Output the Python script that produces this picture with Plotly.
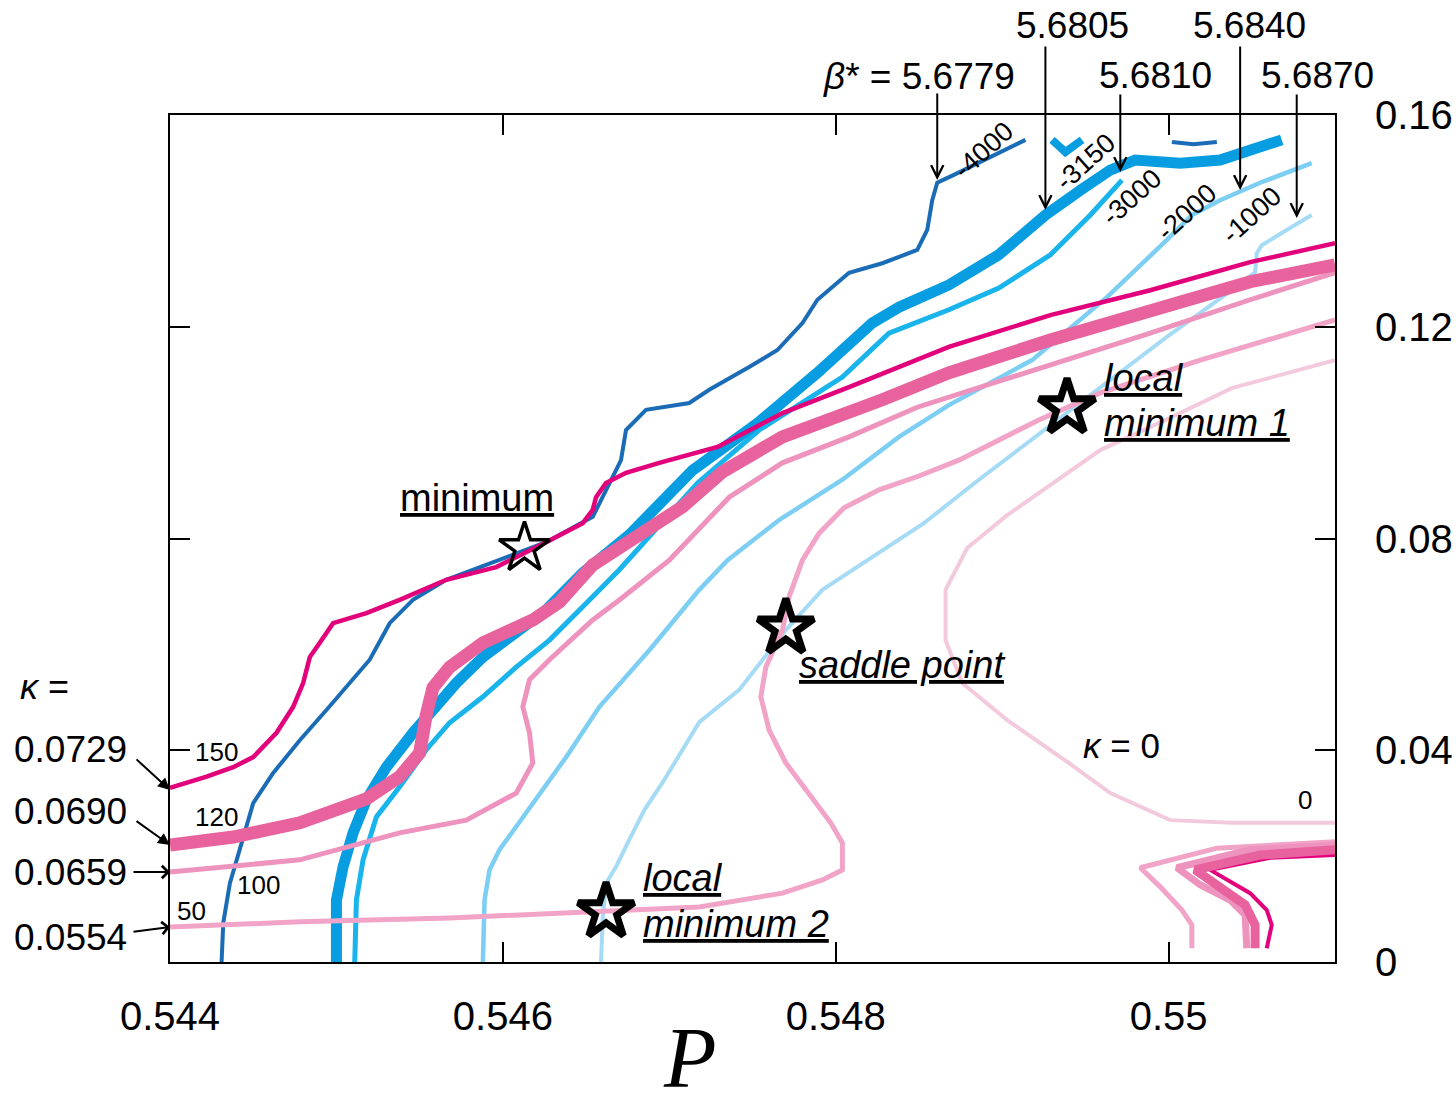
import plotly.graph_objects as go

# ---- beta* contours (P, kappa) ----
b5779_P = [0.54431, 0.54432, 0.54436, 0.54442, 0.54450, 0.54462, 0.54478, 0.54494, 0.54508, 0.54520,
           0.54532, 0.54546, 0.54566, 0.54602, 0.54626, 0.54654, 0.54664, 0.54671, 0.54674, 0.54686,
           0.54712, 0.54724, 0.54748, 0.54765, 0.54780, 0.54789, 0.54808, 0.54828, 0.54849, 0.54855,
           0.54858, 0.54861, 0.54871, 0.54883, 0.54898, 0.54914]
b5779_K = [0.0000, 0.0074, 0.0149, 0.0212, 0.0300, 0.0357, 0.0419, 0.0476, 0.0527, 0.0571,
           0.0640, 0.0684, 0.0722, 0.0765, 0.0793, 0.0841, 0.0905, 0.0948, 0.1005, 0.1043,
           0.1056, 0.1081, 0.1124, 0.1156, 0.1207, 0.1251, 0.1302, 0.1320, 0.1345, 0.1383,
           0.1439, 0.1472, 0.1487, 0.1506, 0.1528, 0.1553]

b5805_P = [0.54500, 0.54500, 0.54504, 0.54510, 0.54518, 0.54530, 0.54546, 0.54558, 0.54572, 0.54588,
           0.54608, 0.54626, 0.54648, 0.54676, 0.54714, 0.54753, 0.54789, 0.54822, 0.54838, 0.54868,
           0.54898, 0.54926, 0.54947, 0.54965, 0.54980, 0.55007, 0.55031, 0.55055, 0.55068]
b5805_K = [0.0000, 0.0117, 0.0180, 0.0244, 0.0306, 0.0368, 0.0433, 0.0476, 0.0527, 0.0576,
           0.0622, 0.0665, 0.0735, 0.0807, 0.0929, 0.1018, 0.1113, 0.1207, 0.1237, 0.1279,
           0.1336, 0.1411, 0.1458, 0.1496, 0.1515, 0.1509, 0.1515, 0.1540, 0.1553]

b5810_P = [0.54511, 0.54512, 0.54516, 0.54524, 0.54538, 0.54554, 0.54568, 0.54588, 0.54608, 0.54628,
           0.54648, 0.54670, 0.54717, 0.54754, 0.54804, 0.54832, 0.54868, 0.54898, 0.54929, 0.54953,
           0.54972]
b5810_K = [0.0000, 0.0117, 0.0193, 0.0274, 0.0331, 0.0401, 0.0452, 0.0501, 0.0557, 0.0608,
           0.0671, 0.0741, 0.0905, 0.1005, 0.1105, 0.1188, 0.1232, 0.1273, 0.1336, 0.1411,
           0.1477]

b5840_P = [0.54588, 0.54589, 0.54592, 0.54598, 0.54614, 0.54638, 0.54658, 0.54688, 0.54718, 0.54735,
           0.54766, 0.54804, 0.54838, 0.54868, 0.54918, 0.54963, 0.54999, 0.55014, 0.55031, 0.55055,
           0.55086]
b5840_K = [0.0000, 0.0117, 0.0174, 0.0212, 0.0282, 0.0387, 0.0482, 0.0589, 0.0703, 0.0759,
           0.0835, 0.0911, 0.0992, 0.1052, 0.1137, 0.1256, 0.1364, 0.1411, 0.1439, 0.1472,
           0.1509]

b5870_P = [0.54659, 0.54660, 0.54662, 0.54668, 0.54676, 0.54685, 0.54697, 0.54718, 0.54742, 0.54770,
           0.54792, 0.54822, 0.54838, 0.54853, 0.54886, 0.54933, 0.54965, 0.54999, 0.55038, 0.55052,
           0.55053, 0.55056, 0.55068, 0.55086]
b5870_K = [0.0000, 0.0085, 0.0149, 0.0180, 0.0231, 0.0287, 0.0344, 0.0453, 0.0514, 0.0627,
           0.0703, 0.0765, 0.0797, 0.0829, 0.0911, 0.1024, 0.1099, 0.1181, 0.1269, 0.1303,
           0.1339, 0.1354, 0.1377, 0.1411]

# small isolated contour pieces near the top edge
b5805_bit_P = [0.54930, 0.54938, 0.54948]
b5805_bit_K = [0.1553, 0.1530, 0.1553]
b5779_bit_P = [0.55002, 0.55015, 0.55029]
b5779_bit_K = [0.1549, 0.1545, 0.1549]

# ---- kappa contours (P, kappa) ----
k0729_P = [0.54400, 0.54422, 0.54438, 0.54450, 0.54464, 0.54474, 0.54480, 0.54484, 0.54490, 0.54498,
           0.54518, 0.54538, 0.54566, 0.54596, 0.54626, 0.54648, 0.54654, 0.54656, 0.54662, 0.54674,
           0.54694, 0.54729, 0.54768, 0.54808, 0.54868, 0.54929, 0.54989, 0.55049, 0.55100]
k0729_K = [0.0329, 0.0350, 0.0368, 0.0387, 0.0433, 0.0482, 0.0527, 0.0576, 0.0603, 0.0640,
           0.0659, 0.0684, 0.0722, 0.0746, 0.0793, 0.0829, 0.0854, 0.0878, 0.0905, 0.0924,
           0.0943, 0.0973, 0.1037, 0.1086, 0.1162, 0.1222, 0.1269, 0.1322, 0.1358]
k0729b_P = [0.55100, 0.55061, 0.55025, 0.55049, 0.55059, 0.55062, 0.55059]
k0729b_K = [0.0202, 0.0197, 0.0174, 0.0130, 0.0098, 0.0070, 0.0026]

k0690_P = [0.54400, 0.54438, 0.54478, 0.54518, 0.54538, 0.54550, 0.54554, 0.54558, 0.54568, 0.54588,
           0.54618, 0.54634, 0.54654, 0.54682, 0.54708, 0.54732, 0.54768, 0.54828, 0.54868, 0.54929,
           0.54989, 0.55049, 0.55100]
k0690_K = [0.0221, 0.0236, 0.0263, 0.0308, 0.0350, 0.0395, 0.0467, 0.0518, 0.0557, 0.0603,
           0.0646, 0.0680, 0.0750, 0.0807, 0.0860, 0.0926, 0.0992, 0.1062, 0.1113, 0.1175,
           0.1232, 0.1285, 0.1317]
k0690b_P = [0.55100, 0.55055, 0.55016, 0.55031, 0.55046, 0.55052, 0.55052]
k0690b_K = [0.0212, 0.0202, 0.0174, 0.0142, 0.0108, 0.0070, 0.0026]

k0659_P = [0.54400, 0.54478, 0.54538, 0.54578, 0.54608, 0.54618, 0.54616, 0.54612, 0.54616, 0.54628,
           0.54654, 0.54670, 0.54700, 0.54736, 0.54768, 0.54808, 0.54849, 0.54868, 0.54929, 0.54989,
           0.55049, 0.55100]
k0659_K = [0.0170, 0.0193, 0.0244, 0.0268, 0.0319, 0.0376, 0.0433, 0.0482, 0.0533, 0.0571,
           0.0646, 0.0684, 0.0759, 0.0878, 0.0943, 0.0992, 0.1048, 0.1067, 0.1128, 0.1188,
           0.1251, 0.1302]
k0659b_P = [0.55100, 0.55049, 0.55005, 0.55019, 0.55037, 0.55046, 0.55047]
k0659b_K = [0.0221, 0.0212, 0.0178, 0.0146, 0.0117, 0.0089, 0.0026]

k0554_P = [0.54400, 0.54478, 0.54568, 0.54662, 0.54718, 0.54768, 0.54792, 0.54804, 0.54804, 0.54797,
           0.54785, 0.54770, 0.54760, 0.54755, 0.54758, 0.54768, 0.54772, 0.54780, 0.54790, 0.54805,
           0.54826, 0.54850, 0.54874, 0.54898, 0.54922, 0.54959, 0.55019, 0.55100]
k0554_K = [0.0066, 0.0076, 0.0083, 0.0095, 0.0104, 0.0130, 0.0155, 0.0174, 0.0225, 0.0263,
           0.0312, 0.0376, 0.0438, 0.0501, 0.0557, 0.0627, 0.0690, 0.0759, 0.0810, 0.0858,
           0.0892, 0.0918, 0.0948, 0.0986, 0.1024, 0.1075, 0.1137, 0.1213]
k0554b_P = [0.55100, 0.55029, 0.54983, 0.54995, 0.55008, 0.55014, 0.55014]
k0554b_K = [0.0227, 0.0215, 0.0178, 0.0142, 0.0098, 0.0070, 0.0026]

k0000_P = [0.55100, 0.55038, 0.55001, 0.54965, 0.54940, 0.54903, 0.54876, 0.54866, 0.54866, 0.54879,
           0.54903, 0.54940, 0.54959, 0.55001, 0.55038, 0.55100]
k0000_K = [0.0263, 0.0263, 0.0268, 0.0319, 0.0376, 0.0457, 0.0527, 0.0608, 0.0703, 0.0782,
           0.0844, 0.0926, 0.0967, 0.1028, 0.1084, 0.1137]

# ---- stationary points ----
star_P = [0.54613, 0.54662, 0.54770, 0.54939]
star_K = [0.0782, 0.0095, 0.0631, 0.1047]

# ---- axis ticks ----
x_ticks = [0.544, 0.546, 0.548, 0.550]
x_labels = ["0.544", "0.546", "0.548", "0.55"]
y_ticks = [0.0, 0.04, 0.08, 0.12, 0.16]
y_labels = ["0", "0.04", "0.08", "0.12", "0.16"]

DARK_BLUE = "#1a6cb6"
MID_BLUE = "#079de0"
CYAN = "#1ab4ec"
LIGHT_BLUE = "#7ccef3"
PALE_BLUE = "#a6dbf5"
MAGENTA = "#e3007b"
ROSE = "#e8629e"
PINK = "#ee93bd"
LIGHT_PINK = "#f1a4c7"
PALE_PINK = "#f3cadd"

fig = go.Figure()


def curve(P, K, color, width):
    fig.add_trace(go.Scatter(x=P, y=K, mode="lines", line=dict(color=color, width=width),
                             hoverinfo="skip", showlegend=False))


# blue family underneath
curve(b5870_P, b5870_K, PALE_BLUE, 4)
curve(b5840_P, b5840_K, LIGHT_BLUE, 4.5)
curve(b5810_P, b5810_K, CYAN, 5)
curve(b5805_P, b5805_K, MID_BLUE, 11)
curve(b5805_bit_P, b5805_bit_K, MID_BLUE, 8)
curve(b5779_P, b5779_K, DARK_BLUE, 4)
curve(b5779_bit_P, b5779_bit_K, DARK_BLUE, 4)

# kappa family on top
curve(k0000_P, k0000_K, PALE_PINK, 4)
curve(k0554_P, k0554_K, LIGHT_PINK, 5)
curve(k0554b_P, k0554b_K, LIGHT_PINK, 5)
curve(k0659_P, k0659_K, PINK, 5)
curve(k0659b_P, k0659b_K, PINK, 7)
curve(k0729b_P, k0729b_K, MAGENTA, 4)
curve(k0690_P, k0690_K, ROSE, 13)
curve(k0690b_P, k0690b_K, ROSE, 9)
curve(k0729_P, k0729_K, MAGENTA, 4.5)

fig.add_trace(go.Scatter(x=star_P, y=star_K, mode="markers",
                         marker=dict(symbol="star-open", size=[38, 42, 42, 42], color="black",
                                     opacity=1, line=dict(color="black", width=[3.5, 7, 7, 7])),
                         hoverinfo="skip", showlegend=False))

SANS = "Liberation Sans, Arial, sans-serif"
SERIF = "Liberation Serif, Times New Roman, serif"


def label(x, y, text, size, angle=0, font=SANS, italic=False, ref="data", anchor="center"):
    xr, yr = ("paper", "paper") if ref == "paper" else ("x", "y")
    fig.add_annotation(x=x, y=y, xref=xr, yref=yr, text=text, showarrow=False, textangle=angle,
                       font=dict(family=font, size=size, color="black",
                                 style="italic" if italic else "normal"),
                       xanchor=anchor, yanchor="middle")


def pointer(x, y, ax, ay, head=5):
    fig.add_annotation(x=x, y=y, ax=ax, ay=ay, text="", showarrow=True,
                       arrowhead=head, arrowsize=1.2, arrowwidth=2, arrowcolor="black")


# beta* values along the top
label(0.6429, 1.0449, "<i>β</i>* = 5.6779", 37, ref="paper")
label(0.7751, 1.1051, "5.6805", 37, ref="paper")
label(0.8455, 1.0472, "5.6810", 37, ref="paper")
label(0.9270, 1.1051, "5.6840", 37, ref="paper")
label(0.9854, 1.0472, "5.6870", 37, ref="paper")
pointer(0.54861, 0.14772, 0, -88)
pointer(0.54926, 0.14205, 0, -165)
pointer(0.54971, 0.14923, 0, -79)
pointer(0.55043, 0.14583, 0, -145)
pointer(0.55077, 0.14054, 0, -125)

# contour level labels
label(0.54889, 0.15338, "-4000", 27, angle=-42)
label(0.54950, 0.15112, "-3150", 27, angle=-42)
label(0.54978, 0.14451, "-3000", 27, angle=-42)
label(0.55011, 0.14168, "-2000", 27, angle=-42)
label(0.55050, 0.14111, "-1000", 27, angle=-42)
label(0.54428, 0.03967, "150", 26)
label(0.54428, 0.02739, "120", 26)
label(0.54453, 0.01455, "100", 26)
label(0.54413, 0.00963, "50", 26)
label(0.55082, 0.03060, "0", 26)
label(0.54972, 0.04099, "<i>κ</i> = 0", 35)

# kappa values on the left
label(-0.1073, 0.3247, "<i>κ</i> =", 36, ref="paper")
label(-0.0858, 0.2503, "0.0729", 37, ref="paper")
label(-0.0858, 0.1771, "0.0690", 37, ref="paper")
label(-0.0858, 0.1051, "0.0659", 37, ref="paper")
label(-0.0858, 0.0295, "0.0554", 37, ref="paper")
pointer(0.54400, 0.03249, -35, -32, head=2)
pointer(0.54400, 0.02210, -35, -25, head=2)
pointer(0.54400, 0.01700, -38, 0, head=4)
pointer(0.54400, 0.00661, -38, 5, head=4)

# stationary point names
U = '<span style="text-decoration:underline">{}</span>'
label(0.54537, 0.08765, U.format("minimum"), 38, anchor="left")
label(0.54683, 0.01587, U.format("local"), 38, italic=True, anchor="left")
label(0.54683, 0.00718, U.format("minimum 2"), 38, italic=True, anchor="left")
label(0.54960, 0.11032, U.format("local"), 38, italic=True, anchor="left")
label(0.54960, 0.10182, U.format("minimum 1"), 38, italic=True, anchor="left")
label(0.54777, 0.05610, U.format("saddle point"), 38, italic=True, anchor="left")

# x-axis title
label(0.4464, -0.1133, "P", 86, font=SERIF, italic=True, ref="paper")

fig.update_xaxes(range=[0.544, 0.551], tickvals=x_ticks, ticktext=x_labels,
                 ticks="inside", ticklen=20, tickwidth=2, tickcolor="black",
                 showline=True, linecolor="black", linewidth=2, mirror="ticks",
                 showgrid=False, zeroline=False, ticklabelstandoff=18, automargin=False,
                 tickfont=dict(family=SANS, size=40, color="black"))
fig.update_yaxes(range=[0, 0.16], tickvals=y_ticks, ticktext=y_labels, side="right",
                 ticks="inside", ticklen=20, tickwidth=2, tickcolor="black",
                 showline=True, linecolor="black", linewidth=2, mirror="ticks",
                 showgrid=False, zeroline=False, ticklabelstandoff=30, automargin=False,
                 tickfont=dict(family=SANS, size=40, color="black"))
fig.update_layout(width=1456, height=1112, margin=dict(l=170, r=121, t=115, b=150),
                  plot_bgcolor="white", paper_bgcolor="white", showlegend=False)

fig.write_html("out.html")
